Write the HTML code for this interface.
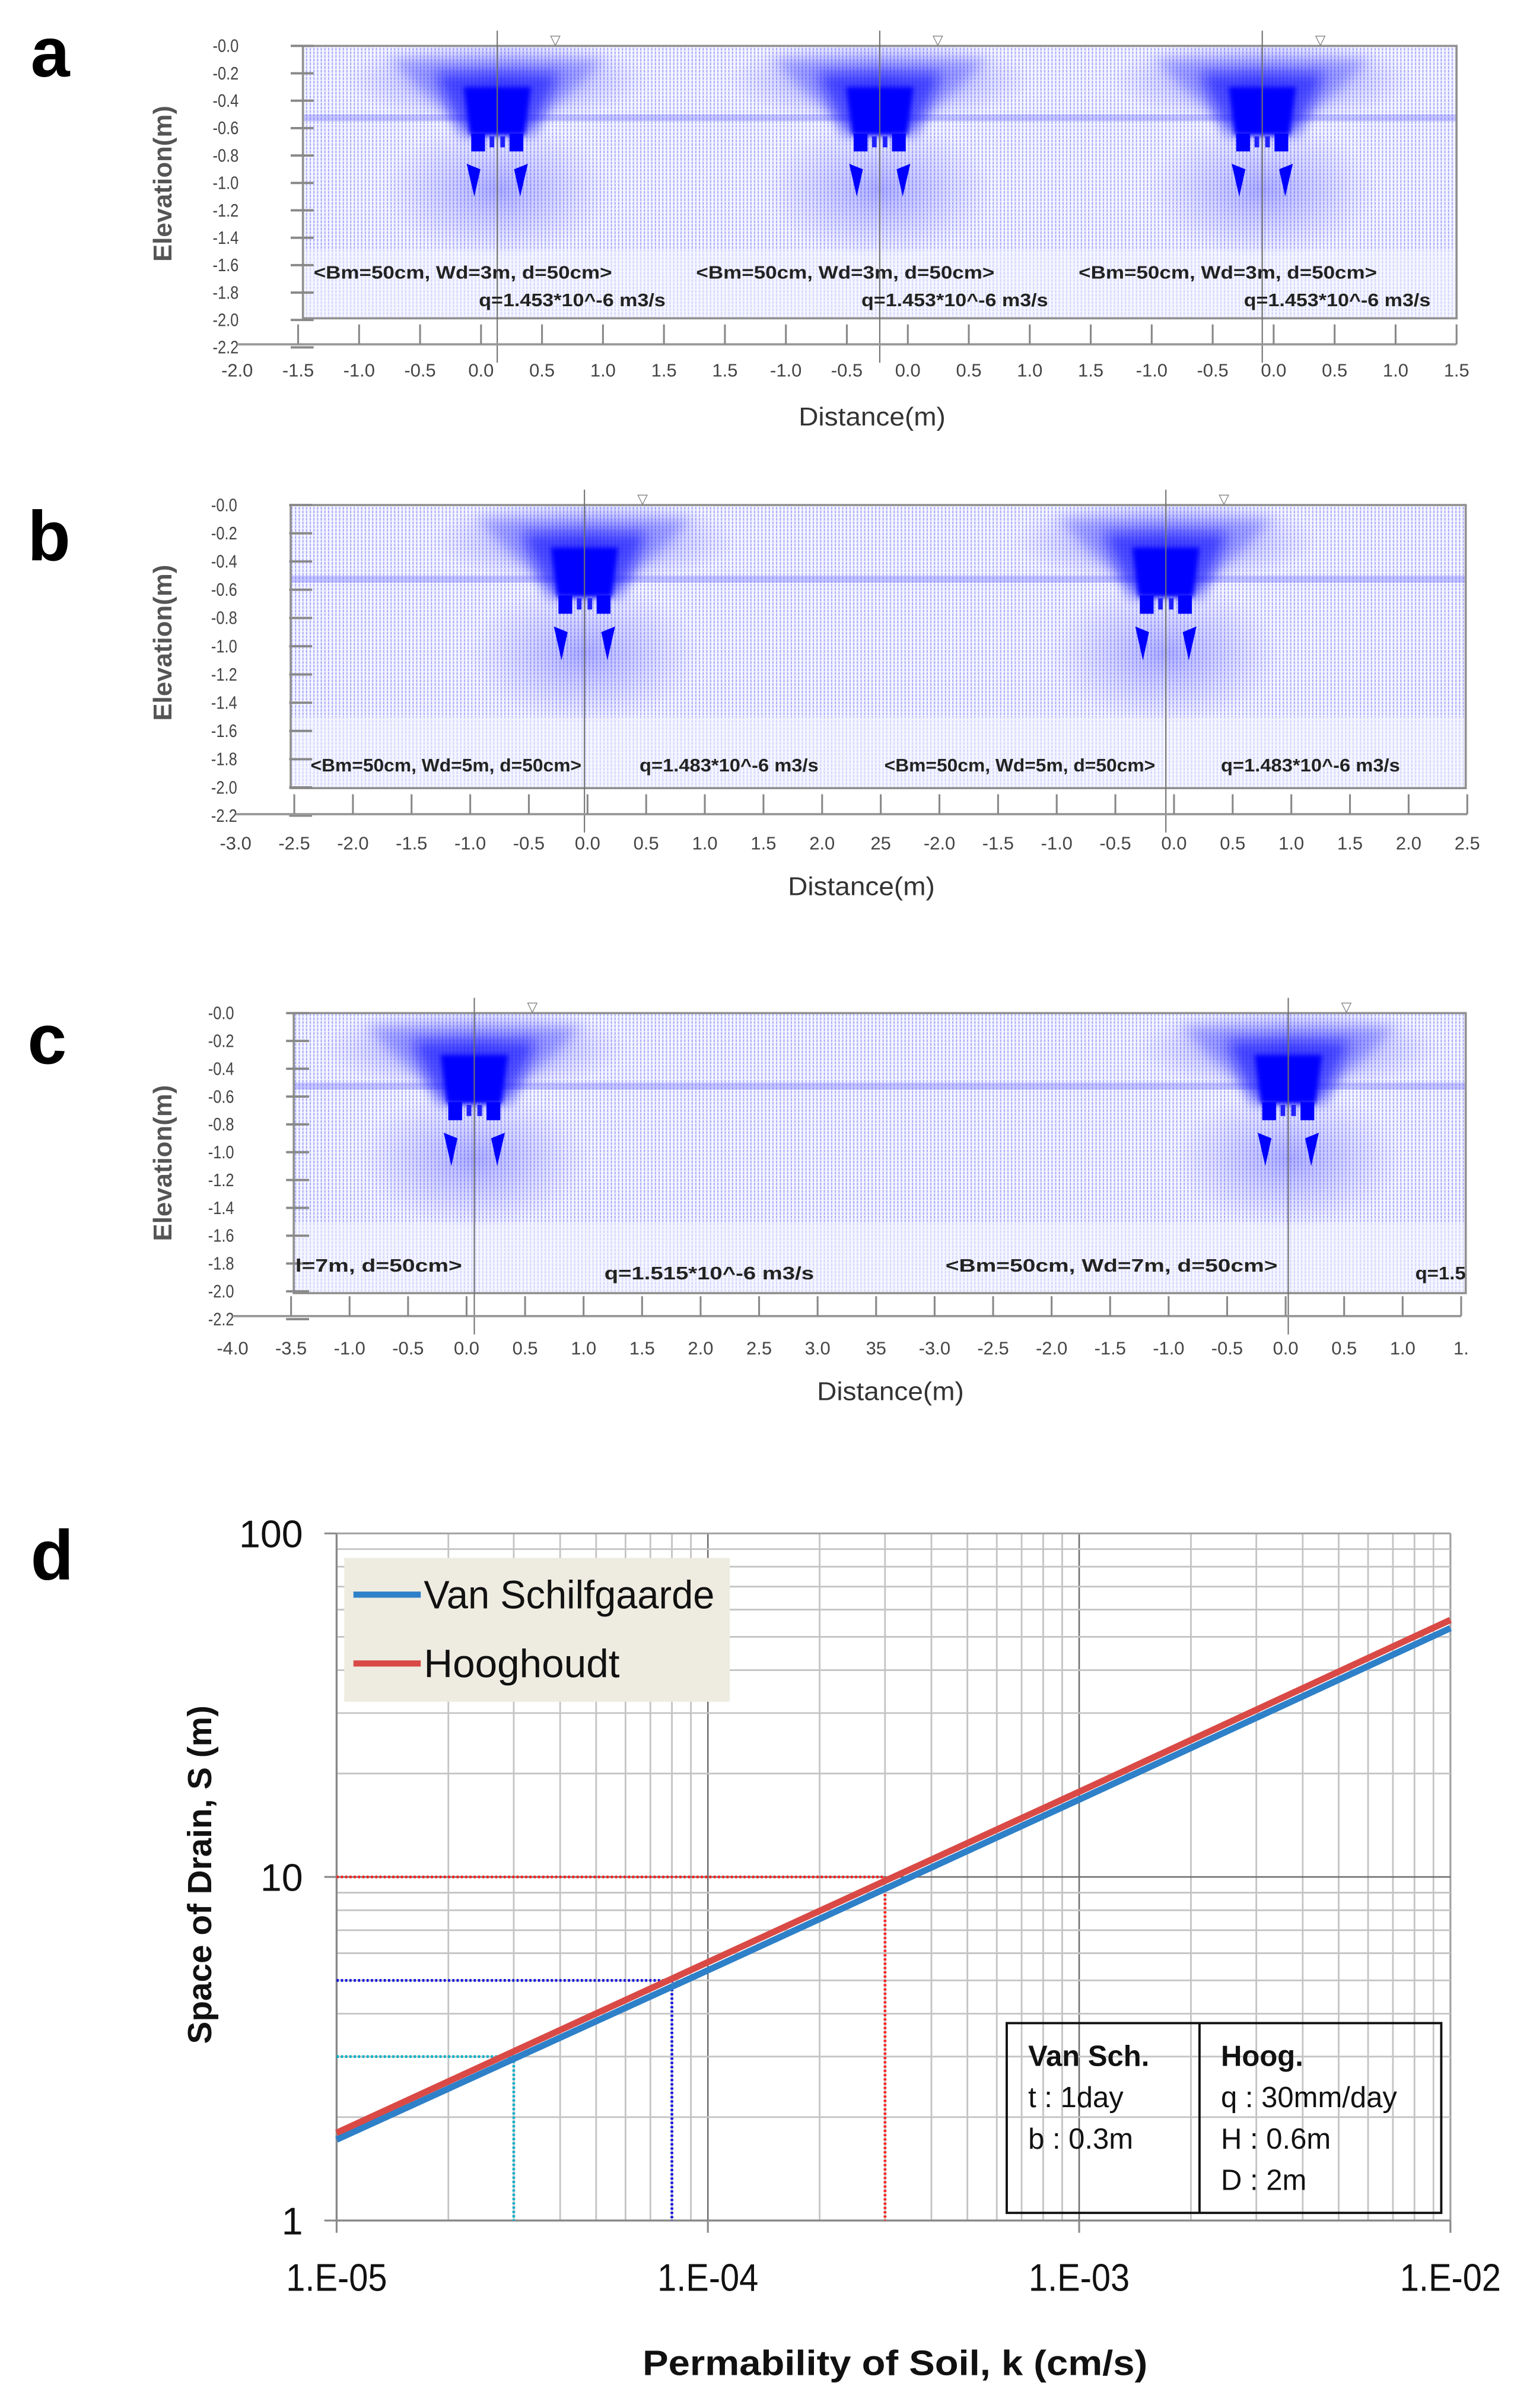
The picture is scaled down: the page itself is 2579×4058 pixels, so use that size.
<!DOCTYPE html>
<html><head><meta charset="utf-8"><style>
html,body{margin:0;padding:0;background:#fff;}
svg{display:block;}
text{font-family:"Liberation Sans Narrow","Liberation Sans",sans-serif;}
</style></head><body>
<svg id="fig" width="2579" height="4058" viewBox="0 0 1000 1573.5" preserveAspectRatio="none" xmlns="http://www.w3.org/2000/svg">
<defs>
<pattern id="vf" width="2.4" height="2.4" patternUnits="userSpaceOnUse">
<rect x="0.8" y="0" width="0.8" height="1.8" fill="#5a5aff" opacity="0.5"/>
</pattern>
<radialGradient id="fan"><stop offset="0" stop-color="#0000ff" stop-opacity="0.85"/><stop offset="0.5" stop-color="#2020ff" stop-opacity="0.45"/><stop offset="1" stop-color="#4040ff" stop-opacity="0"/></radialGradient>
<radialGradient id="low"><stop offset="0" stop-color="#3030ff" stop-opacity="0.35"/><stop offset="1" stop-color="#6060ff" stop-opacity="0"/></radialGradient>
<filter id="blur1" x="-50%" y="-50%" width="200%" height="200%"><feGaussianBlur stdDeviation="4"/></filter>
<filter id="blur2" x="-50%" y="-50%" width="200%" height="200%"><feGaussianBlur stdDeviation="1.5"/></filter>
</defs>
<g id="panels"></g>
<g id="chartd"></g>
</svg>
<script>
const NS="http://www.w3.org/2000/svg";
function mk(tag,attrs,parent){const e=document.createElementNS(NS,tag);for(const k in attrs)e.setAttribute(k,attrs[k]);if(parent)parent.appendChild(e);return e;}

// ---- Panels a-c data ----
const elevTicks=["-0.0","-0.2","-0.4","-0.6","-0.8","-1.0","-1.2","-1.4","-1.6","-1.8","-2.0","-2.2"];
const aXLabels=["-2.0","-1.5","-1.0","-0.5","0.0","0.5","1.0","1.5","1.5","-1.0","-0.5","0.0","0.5","1.0","1.5","-1.0","-0.5","0.0","0.5","1.0","1.5"];
const bXLabels=["-3.0","-2.5","-2.0","-1.5","-1.0","-0.5","0.0","0.5","1.0","1.5","2.0","25","-2.0","-1.5","-1.0","-0.5","0.0","0.5","1.0","1.5","2.0","2.5"];
const cXLabels=["-4.0","-3.5","-1.0","-0.5","0.0","0.5","1.0","1.5","2.0","2.5","3.0","35","-3.0","-2.5","-2.0","-1.5","-1.0","-0.5","0.0","0.5","1.0","1."];
const aDrains=[325,575,825];
const bDrains=[382,762];
const cDrains=[310,842];

const panels=[
 {id:"a",lab:[20,50],box:[198,30,952,208],yTop:30,yBot:227,axisY:225,xl:aXLabels,x0:155,x1:952,xly:246,drains:aDrains,
  notes:[["<Bm=50cm, Wd=3m, d=50cm>",205,182,195],["q=1.453*10^-6 m3/s",313,200,122],["<Bm=50cm, Wd=3m, d=50cm>",455,182,195],["q=1.453*10^-6 m3/s",563,200,122],["<Bm=50cm, Wd=3m, d=50cm>",705,182,195],["q=1.453*10^-6 m3/s",813,200,122]],
  title:[570,278],ylab:[112,120]},
 {id:"b",lab:[18,366],box:[190,330,958,515],yTop:330,yBot:533,axisY:532,xl:bXLabels,x0:154,x1:959,xly:555,drains:bDrains,
  notes:[["<Bm=50cm, Wd=5m, d=50cm>",203,504,177],["q=1.483*10^-6 m3/s",418,504,117],["<Bm=50cm, Wd=5m, d=50cm>",578,504,177],["q=1.483*10^-6 m3/s",798,504,117]],
  title:[563,585],ylab:[112,420]},
 {id:"c",lab:[18,695],box:[192,662,958,845],yTop:662,yBot:862,axisY:860,xl:cXLabels,x0:152,x1:955,xly:885,drains:cDrains,
  notes:[["l=7m, d=50cm>",193,831,109],["q=1.515*10^-6 m3/s",395,836,137],["<Bm=50cm, Wd=7m, d=50cm>",618,831,217],["q=1.5",925,836,33]],
  title:[582,915],ylab:[112,760]}
];

const pg=document.getElementById("panels");
panels.forEach(p=>{
  const g=mk("g",{},pg);
  
  
  const L=mk("text",{x:p.lab[0],y:p.lab[1],"font-size":46,"font-weight":"bold",style:"font-family:'Liberation Sans',sans-serif"},g);
  L.textContent=p.id;
  
  
  const [bx0,by0,bx1,by1]=p.box;
  const ys=(p.yBot-p.yTop)/2.2;
  const ey=v=>p.yTop+v*ys;
  const cp=mk("clipPath",{id:"clip"+p.id},g);mk("rect",{x:bx0,y:by0,width:bx1-bx0,height:by1-by0},cp);
  const field=mk("g",{"clip-path":"url(#clip"+p.id+")"},g);
  
  
  mk("rect",{x:bx0,y:by0,width:bx1-bx0,height:by1-by0,fill:"#f5f6ff"},field);
  mk("rect",{x:bx0,y:by0,width:bx1-bx0,height:(by1-by0)*0.75,fill:"url(#vf)"},field);
  mk("rect",{x:bx0,y:by0+(by1-by0)*0.75,width:bx1-bx0,height:(by1-by0)*0.25,fill:"url(#vf)",opacity:0.45},field);
  mk("rect",{x:bx0,y:ey(0.5),width:bx1-bx0,height:ys*0.05,fill:"#5050ff",opacity:0.28},field);
  p.drains.forEach(x=>{
    mk("ellipse",{cx:x,cy:ey(0.25),rx:100,ry:ys*0.32,fill:"url(#fan)",opacity:0.45},field);
    mk("ellipse",{cx:x,cy:ey(1.05),rx:75,ry:ys*0.5,fill:"url(#low)"},field);
    mk("polygon",{points:`${x-70},${ey(0.1)} ${x+70},${ey(0.1)} ${x+28},${ey(0.55)} ${x-28},${ey(0.55)}`,fill:"#3030ff",opacity:0.3,filter:"url(#blur1)"},field);
    mk("polygon",{points:`${x-40},${ey(0.2)} ${x+40},${ey(0.2)} ${x+24},${ey(0.65)} ${x-24},${ey(0.65)}`,fill:"#1010ff",opacity:0.55,filter:"url(#blur1)"},field);
    mk("polygon",{points:`${x-22},${ey(0.3)} ${x+22},${ey(0.3)} ${x+18},${ey(0.65)} ${x-18},${ey(0.65)}`,fill:"#0000ff",filter:"url(#blur2)"},field);
    mk("rect",{x:x-17,y:ey(0.64),width:9,height:ys*0.13,fill:"#0000ff"},field);
    mk("rect",{x:x+8,y:ey(0.64),width:9,height:ys*0.13,fill:"#0000ff"},field);
    mk("rect",{x:x-5,y:ey(0.66),width:3,height:ys*0.08,fill:"#2020ff"},field);
    mk("rect",{x:x+2,y:ey(0.66),width:3,height:ys*0.08,fill:"#2020ff"},field);
    const t1=mk("polygon",{points:`${x-20},${ey(0.86)} ${x-11},${ey(0.9)} ${x-15},${ey(1.1)}`,fill:"#0000ff"},field);
    
    const t2=mk("polygon",{points:`${x+11},${ey(0.9)} ${x+20},${ey(0.86)} ${x+15},${ey(1.1)}`,fill:"#0000ff"},field);
    
  });
  mk("rect",{x:bx0,y:by0,width:bx1-bx0,height:by1-by0,fill:"none",stroke:"#909090","stroke-width":1.4},g);
  p.drains.forEach(x=>{
    mk("line",{x1:x,y1:by0-10,x2:x,y2:p.axisY+12,stroke:"#707070","stroke-width":0.8},g);
    const m=mk("text",{x:x+38,y:by0-1,"font-size":9,fill:"#777","text-anchor":"middle"},g);m.textContent="▽";
  });
  const yax=mk("g",{},g);
  
  
  elevTicks.forEach((t,i)=>{
    const y=p.yTop+i*(p.yBot-p.yTop)/(elevTicks.length-1);
    mk("line",{x1:p.x0+35,y1:y,x2:p.x0+50,y2:y,stroke:"#888","stroke-width":1.5},yax);
    const tx=mk("text",{x:p.x0+1,y:y+4,"font-size":12,"text-anchor":"end",fill:"#444",textLength:17,lengthAdjust:"spacingAndGlyphs"},yax);tx.textContent=t;
  });
  const yt=mk("text",{x:p.ylab[0],y:p.ylab[1],"font-size":17,"font-weight":"bold",fill:"#555","text-anchor":"middle",transform:`rotate(-90 ${p.ylab[0]} ${p.ylab[1]})`,style:"font-family:'Liberation Sans',sans-serif"},g);
  yt.textContent="Elevation(m)";
  
  const xax=mk("g",{},g);
  
  
  mk("line",{x1:p.x0,y1:p.axisY,x2:p.x1,y2:p.axisY,stroke:"#999","stroke-width":1.5},xax);
  const step=(p.x1-p.x0)/(p.xl.length-1);
  p.xl.forEach((t,i)=>{
    const x=p.x0+i*step;
    if(i>0) mk("line",{x1:x,y1:p.axisY-13,x2:x,y2:p.axisY,stroke:"#888","stroke-width":1.2},xax);
    const tx=mk("text",{x:x,y:p.xly,"font-size":12,"text-anchor":"middle",fill:"#444"},xax);tx.textContent=t;
  });
  const xt=mk("text",{x:p.title[0],y:p.title[1],"font-size":17,"text-anchor":"middle",fill:"#333",textLength:96,lengthAdjust:"spacingAndGlyphs"},g);
  xt.textContent="Distance(m)";
  
  p.notes.forEach(n=>{
    const t=mk("text",{x:n[1],y:n[2],"font-size":12,"font-weight":"bold",fill:"#222",textLength:n[3],lengthAdjust:"spacingAndGlyphs"},g);
    t.textContent=n[0];
    
  });
});

// ---- Chart d data ----
const kValues=[1e-5,1e-4,1e-3,1e-2];
const vanSchilfgaarde=[1.72,5.35,16.8,53];
const hooghoudt=[1.8,5.65,17.7,56];
const xTickLabels=["1.E-05","1.E-04","1.E-03","1.E-02"];
const yTickLabels=["1","10","100"];
const guideK=[3e-5,8e-5,3e-4];
const guideS=[3,5,10];
const guideColors=["#00b0c8","#1010e0","#ff2020"];

const d=document.getElementById("chartd");
const PL=220,PR=948,PT=1002,PB=1451;
const xs=k=>PL+(Math.log10(k)+5)/3*(PR-PL);
const ysD=s=>PB-Math.log10(s)/2*(PB-PT);
const lab=mk("text",{x:20,y:1032,"font-size":46,"font-weight":"bold",style:"font-family:'Liberation Sans',sans-serif"},d);
lab.textContent="d";
const grid=mk("g",{},d);

for(let e=-5;e<-2;e++)for(let m=1;m<10;m++){const x=xs(m*Math.pow(10,e));mk("line",{x1:x,y1:PT,x2:x,y2:PB,stroke:m==1?"#707070":"#c4c4c4","stroke-width":m==1?1:1.1},grid);}
mk("line",{x1:PR,y1:PT,x2:PR,y2:PB,stroke:"#a0a0a0","stroke-width":1.2},grid);
for(let e=0;e<2;e++)for(let m=1;m<10;m++){const y=ysD(m*Math.pow(10,e));mk("line",{x1:PL,y1:y,x2:PR,y2:y,stroke:m==1?"#707070":"#c4c4c4","stroke-width":m==1?1:1.1},grid);}
mk("line",{x1:PL,y1:PT,x2:PR,y2:PT,stroke:"#a0a0a0","stroke-width":1.2},grid);
mk("line",{x1:PL,y1:PT,x2:PL,y2:PB,stroke:"#888","stroke-width":1.3},grid);
mk("line",{x1:PL,y1:PB,x2:PR,y2:PB,stroke:"#888","stroke-width":1.3},grid);
for(let e=-5;e<=-2;e++){mk("line",{x1:xs(Math.pow(10,e)),y1:PB,x2:xs(Math.pow(10,e)),y2:PB+8,stroke:"#888","stroke-width":1.2},grid);}
for(let e=0;e<=2;e++){mk("line",{x1:PL-8,y1:ysD(Math.pow(10,e)),x2:PL,y2:ysD(Math.pow(10,e)),stroke:"#888","stroke-width":1.2},grid);}
guideK.forEach((k,i)=>{
  const gg=mk("g",{stroke:guideColors[i],"stroke-width":1.8,"stroke-dasharray":"1.4 1.4",fill:"none"},d);
  
  mk("line",{x1:PL,y1:ysD(guideS[i]),x2:xs(k),y2:ysD(guideS[i])},gg);
  mk("line",{x1:xs(k),y1:ysD(guideS[i]),x2:xs(k),y2:PB},gg);
});
function series(vals,color,name){
  const pts=kValues.map((k,i)=>xs(k)+","+ysD(vals[i])).join(" ");
  const pl=mk("polyline",{points:pts,fill:"none",stroke:color,"stroke-width":4.2},d);
  
}
series(vanSchilfgaarde,"#2e80c8","line-van-schilfgaarde");
series(hooghoudt,"#d94a46","line-hooghoudt");
xTickLabels.forEach((t,i)=>{const tx=mk("text",{x:xs(kValues[i]),y:1497,"font-size":25,"text-anchor":"middle",fill:"#111",textLength:66,lengthAdjust:"spacingAndGlyphs"},d);tx.textContent=t;
 });
yTickLabels.forEach((t,i)=>{const tx=mk("text",{x:PL-22,y:ysD(Math.pow(10,i))+9,"font-size":25,"text-anchor":"end",fill:"#111"},d);tx.textContent=t;
 });
const xt=mk("text",{x:585,y:1552,"font-size":23,"font-weight":"bold","text-anchor":"middle",fill:"#111",textLength:330,lengthAdjust:"spacingAndGlyphs"},d);
xt.textContent="Permability of Soil,  k (cm/s)";
const yt=mk("text",{x:138,y:1225,"font-size":22,"font-weight":"bold","text-anchor":"middle",fill:"#111",transform:"rotate(-90 138 1225)",style:"font-family:'Liberation Sans',sans-serif"},d);
yt.textContent="Space of Drain, S (m)";
const lg=mk("g",{},d);

mk("rect",{x:225,y:1018,width:252,height:94,fill:"#eeece1"},lg);
const le1=mk("g",{},lg);
mk("line",{x1:231,y1:1042,x2:275,y2:1042,stroke:"#2e80c8","stroke-width":4},le1);
const t1=mk("text",{x:277,y:1051,"font-size":26,fill:"#111",textLength:190,lengthAdjust:"spacingAndGlyphs"},le1);t1.textContent="Van Schilfgaarde";
const le2=mk("g",{},lg);
mk("line",{x1:231,y1:1087,x2:275,y2:1087,stroke:"#d94a46","stroke-width":4},le2);
const t2=mk("text",{x:277,y:1096,"font-size":26,fill:"#111",textLength:128,lengthAdjust:"spacingAndGlyphs"},le2);t2.textContent="Hooghoudt";
const ib=mk("g",{},d);

mk("rect",{x:658,y:1322,width:284,height:124,fill:"none",stroke:"#111","stroke-width":1.5},ib);
mk("line",{x1:784,y1:1322,x2:784,y2:1446,stroke:"#111","stroke-width":1.5},ib);
[["Van Sch.",672,1350,true],["t : 1day",672,1377],["b : 0.3m",672,1404],["Hoog.",798,1350,true],["q : 30mm/day",798,1377],["H : 0.6m",798,1404],["D : 2m",798,1431]].forEach(r=>{
  const t=mk("text",{x:r[1],y:r[2],"font-size":19,fill:"#111","font-weight":r[3]?"bold":"normal"},ib);t.textContent=r[0];
});
</script>
</body></html>
